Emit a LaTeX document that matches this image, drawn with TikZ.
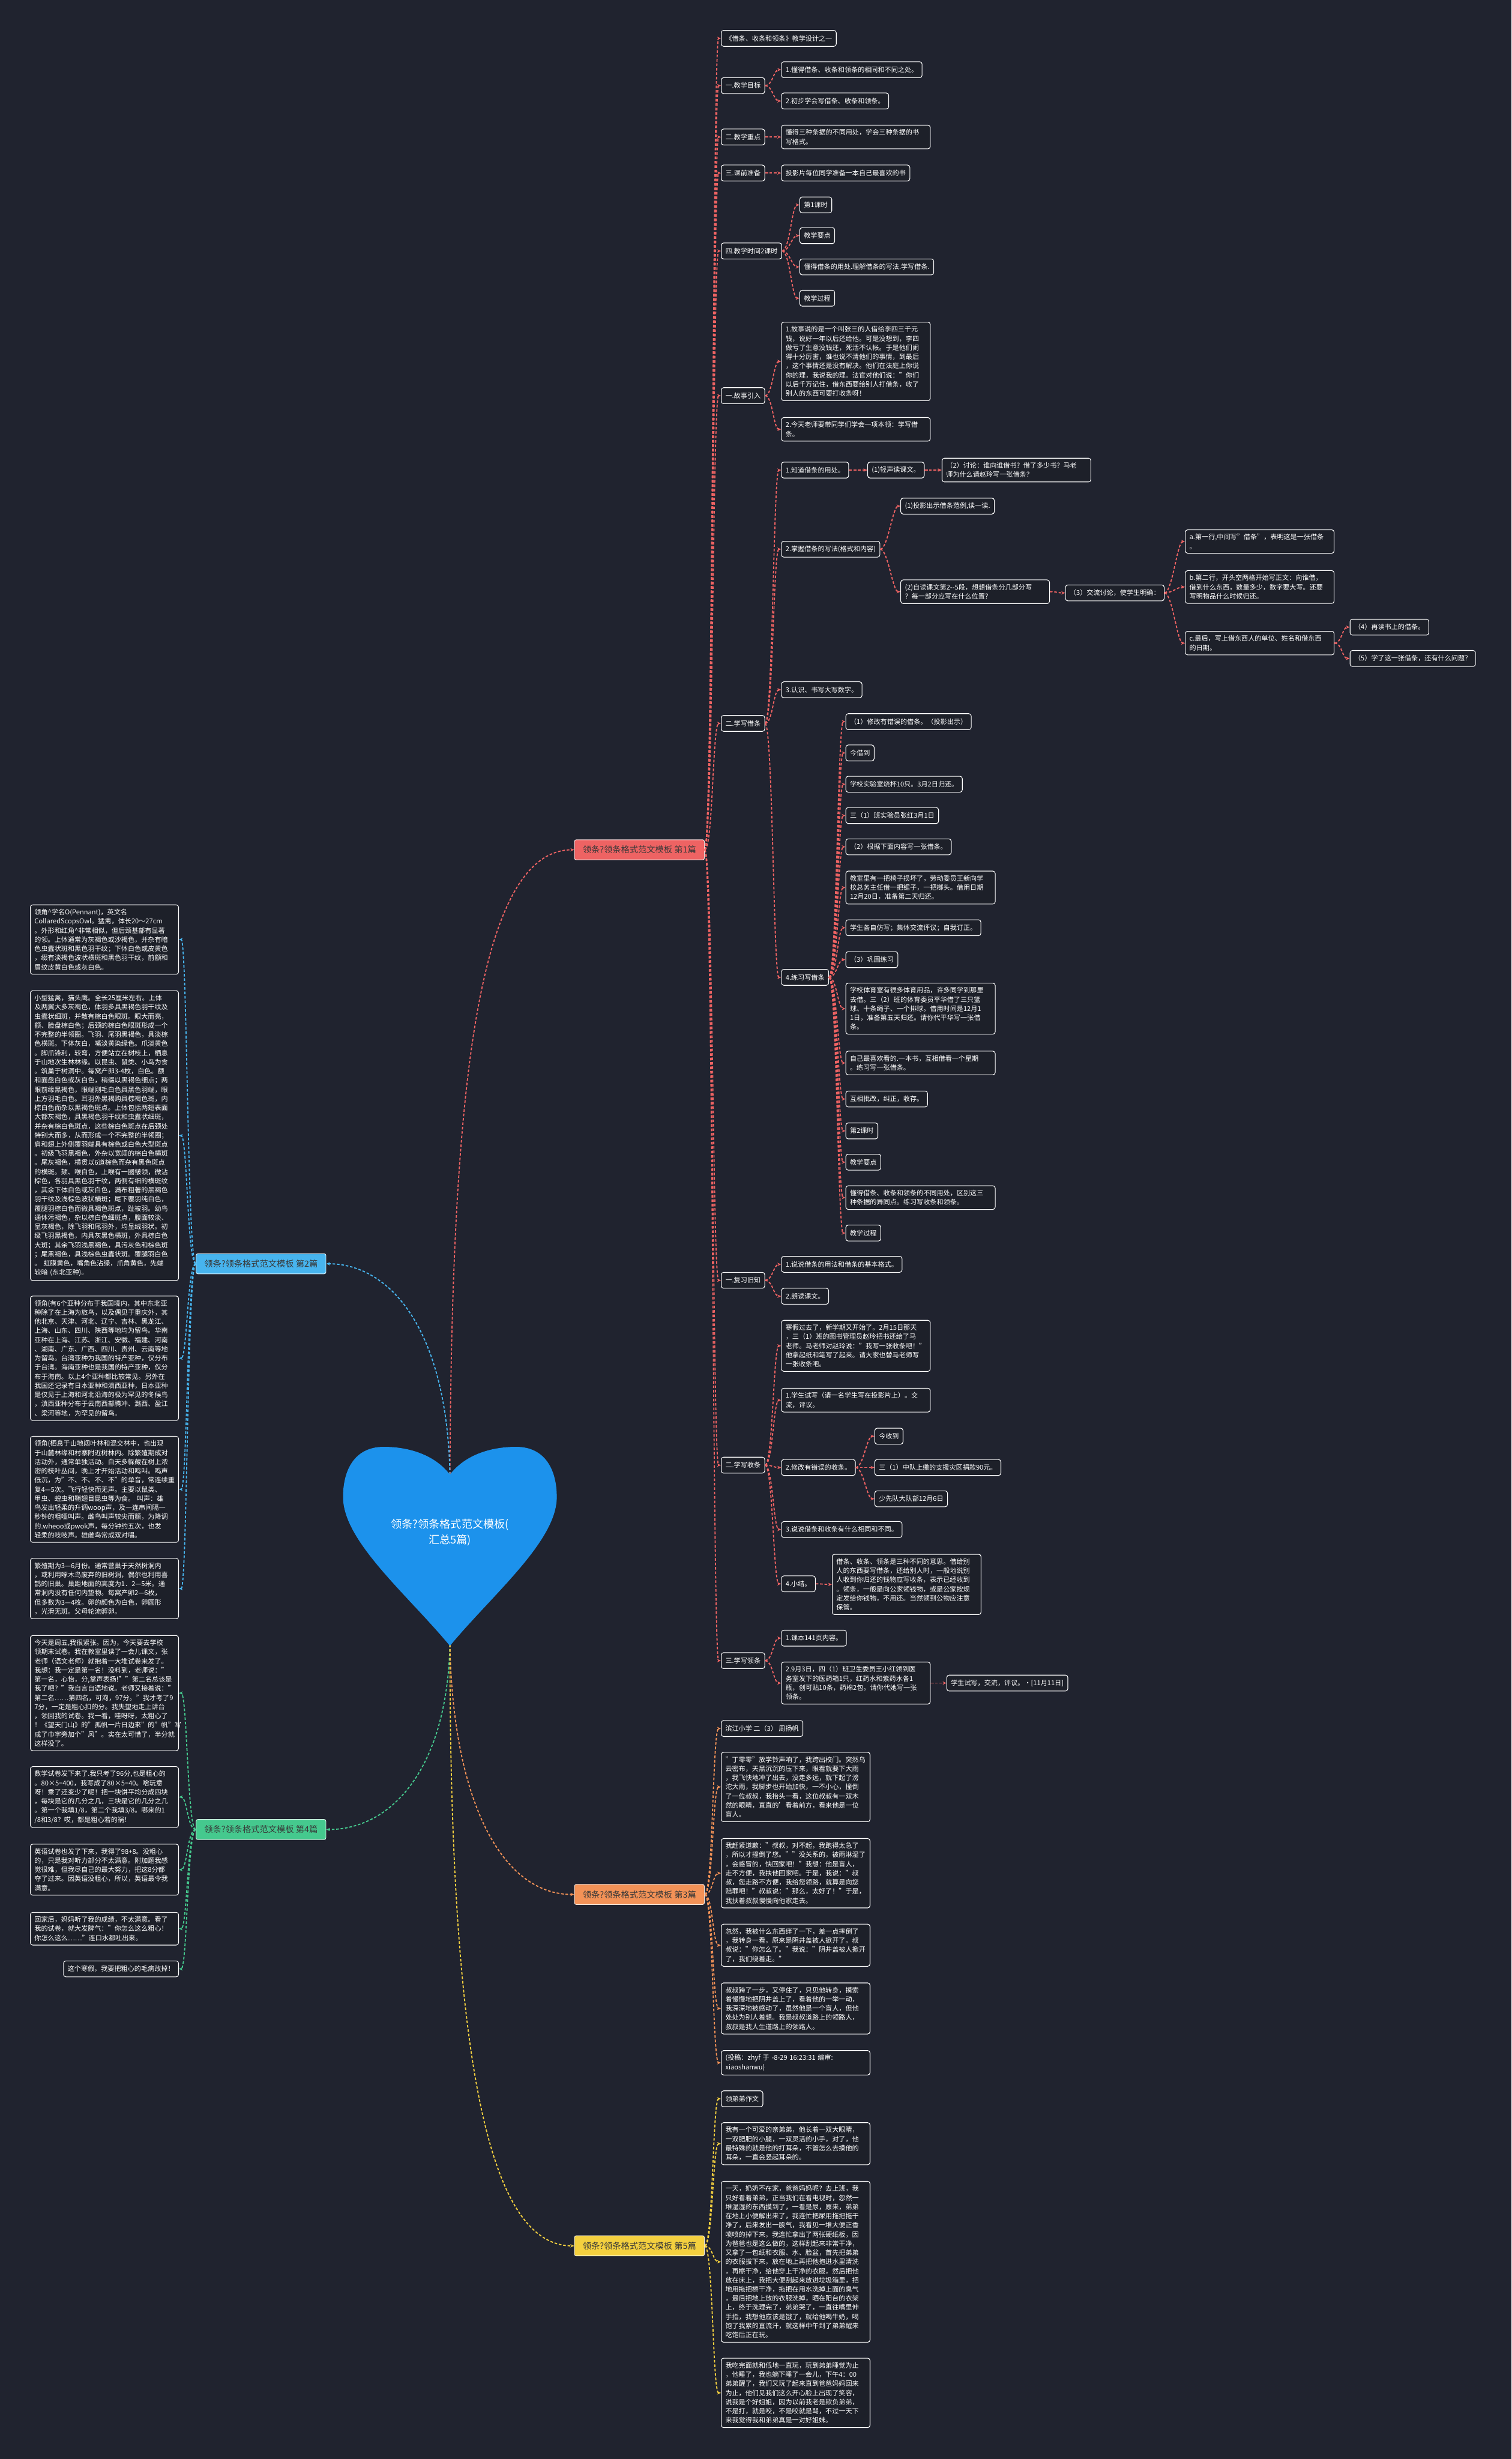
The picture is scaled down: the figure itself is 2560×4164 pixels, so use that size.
\documentclass[tikz,border=0pt]{standalone}
\usepackage{fontspec}
\setmainfont{Noto Sans CJK SC}
\usetikzlibrary{arrows.meta}
\definecolor{bgc}{HTML}{20232F}
\definecolor{boxc}{HTML}{1D2029}
\definecolor{heartc}{HTML}{1C92EC}
\definecolor{redc}{HTML}{EE6363}
\definecolor{bluec}{HTML}{47B4EE}
\definecolor{greenc}{HTML}{45C98E}
\definecolor{orangec}{HTML}{F39257}
\definecolor{yellowc}{HTML}{F4D03F}
\begin{document}
\begin{tikzpicture}[
  x=1pt,y=-1pt,
  topic/.style={fill=#1,draw=white!80!#1,line width=1pt,rounded corners=3pt,text=black!78,
    font=\fontsize{14.5}{18}\selectfont,minimum width=220pt,minimum height=34pt,inner sep=4pt},
  leaf/.style={anchor=west,fill=boxc,draw=white,line width=1.1pt,rounded corners=4pt,text=white,
    font=\fontsize{11.3}{15.5}\selectfont,align=left,inner xsep=7pt,inner ysep=7pt,minimum height=27pt},
  para/.style={leaf,text width=#1},
  para/.default=238pt,
  twig/.style={draw=#1,line width=1.9pt,dash pattern=on 4.5pt off 3pt,-{Stealth[length=6.5pt,width=5.5pt]}}
]
  \useasboundingbox (0,0) rectangle (2560,4164);
  \fill[bgc] (0,0) rectangle (2560,4164);

  % centre
  \coordinate (heart top) at (762,2497);
  \coordinate (heart tip) at (762,2785);
  \node[topic=redc] (m1) at (1083,1439) {领条?领条格式范文模板 第1篇};
  \node[topic=bluec] (m2) at (442,2140) {领条?领条格式范文模板 第2篇};
  \node[topic=orangec] (m3) at (1083,3208) {领条?领条格式范文模板 第3篇};
  \node[topic=greenc] (m4) at (442,3098) {领条?领条格式范文模板 第4篇};
  \node[topic=yellowc] (m5) at (1083,3803) {领条?领条格式范文模板 第5篇};
  \draw[twig=redc] (heart top) .. controls (765,1900) and (800,1439) .. (m1.west);
  \draw[twig=bluec] (heart top) .. controls (757,2250) and (660,2140) .. (m2.east);
  \draw[twig=greenc] (heart tip) .. controls (757,3000) and (660,3098) .. (m4.east);
  \draw[twig=orangec] (heart tip) .. controls (767,3050) and (850,3208) .. (m3.west);
  \draw[twig=yellowc] (heart tip) .. controls (762,3500) and (830,3803) .. (m5.west);
  \fill[heartc] (762,2497) .. controls (735,2462) and (690,2450) .. (650,2450)
    .. controls (600,2450) and (581,2490) .. (581,2535)
    .. controls (581,2610) and (690,2700) .. (762,2787)
    .. controls (834,2700) and (943,2610) .. (943,2535)
    .. controls (943,2490) and (924,2450) .. (874,2450)
    .. controls (834,2450) and (789,2462) .. (762,2497) -- cycle;
  \node[font=\fontsize{18.5}{27}\selectfont,text=white,align=center] (root) at (762,2595)
    {领条?领条格式范文模板(\\汇总5篇)};

  % 第1篇
  \node[leaf] (a0) at (1221,65) {《借条、收条和领条》教学设计之一};
  \node[leaf] (a1) at (1221,145) {一.教学目标};
  \node[leaf] (a1a) at (1323,118) {1.懂得借条、收条和领条的相同和不同之处。};
  \node[leaf] (a1b) at (1323,171) {2.初步学会写借条、收条和领条。};
  \node[leaf] (a2) at (1221,232) {二.教学重点};
  \node[para] (a2a) at (1323,232) {懂得三种条据的不同用处，学会三种条据的书\\写格式。};
  \node[leaf] (a3) at (1221,293) {三.课前准备};
  \node[leaf] (a3a) at (1323,293) {投影片每位同学准备一本自己最喜欢的书};
  \node[leaf] (a4) at (1221,425) {四.教学时间2课时};
  \node[leaf] (a4a) at (1354,347) {第1课时};
  \node[leaf] (a4b) at (1354,399) {教学要点};
  \node[leaf] (a4c) at (1354,452) {懂得借条的用处.理解借条的写法.学写借条.};
  \node[leaf] (a4d) at (1354,505) {教学过程};
  \node[leaf] (a5) at (1221,670) {一.故事引入};
  \node[para] (a5a) at (1323,612) {1.故事说的是一个叫张三的人借给李四三千元\\钱，说好一年以后还给他。可是没想到，李四\\做亏了生意没钱还，死活不认帐。于是他们闹\\得十分厉害，谁也说不清他们的事情，到最后\\，这个事情还是没有解决。他们在法庭上你说\\你的理，我说我的理。法官对他们说："你们\\以后千万记住，借东西要给别人打借条，收了\\别人的东西可要打收条呀！};
  \node[para] (a5b) at (1323,727) {2.今天老师要带同学们学会一项本领：学写借\\条。};
  \node[leaf] (a6) at (1221,1225) {二.学写借条};
  \node[leaf] (b1) at (1323,796) {1.知道借条的用处。};
  \node[leaf] (b1a) at (1469,796) {(1)轻声读课文。};
  \node[para] (b1b) at (1595,796) {（2）讨论：谁向谁借书？借了多少书？马老\\师为什么请赵玲写一张借条？};
  \node[leaf] (b2) at (1323,930) {2.掌握借条的写法(格式和内容)};
  \node[leaf] (b2a) at (1525,857) {(1)投影出示借条范例,读一读.};
  \node[para] (b2b) at (1525,1002) {(2)自读课文第2-{}-5段，想想借条分几部分写\\？每一部分应写在什么位置？};
  \node[leaf] (b2c) at (1804,1004) {（3）交流讨论，使学生明确：};
  \node[para] (c1) at (2007,917) {a.第一行,中间写"借条"，表明这是一张借条\\。};
  \node[para] (c2) at (2007,994) {b.第二行，开头空两格开始写正文：向谁借，\\借到什么东西，数量多少，数字要大写。还要\\写明物品什么时候归还。};
  \node[para] (c3) at (2007,1089) {c.最后，写上借东西人的单位、姓名和借东西\\的日期。};
  \node[leaf] (c3a) at (2286,1062) {（4）再读书上的借条。};
  \node[leaf] (c3b) at (2286,1115) {（5）学了这一张借条，还有什么问题？};
  \node[leaf] (b3) at (1323,1168) {3.认识、书写大写数字。};
  \node[leaf] (b4) at (1323,1655) {4.练习写借条};
  \node[leaf] (d1) at (1432,1222) {（1）修改有错误的借条。（投影出示）};
  \node[leaf] (d2) at (1432,1275) {今借到};
  \node[leaf] (d3) at (1432,1328) {学校实验室烧杯10只。3月2日归还。};
  \node[leaf] (d4) at (1432,1381) {三（1）班实验员张红3月1日};
  \node[leaf] (d5) at (1432,1434) {（2）根据下面内容写一张借条。};
  \node[para=239pt] (d6) at (1432,1503) {教室里有一把椅子损坏了，劳动委员王新向学\\校总务主任借一把锯子，一把榔头。借用日期\\12月20日，准备第二天归还。};
  \node[leaf] (d7) at (1432,1571) {学生各自仿写；集体交流评议；自我订正。};
  \node[leaf] (d8) at (1432,1625) {（3）巩固练习};
  \node[para=239pt] (d9) at (1432,1708) {学校体育室有很多体育用品，许多同学到那里\\去借。三（2）班的体育委员平华借了三只篮\\球、十条绳子、一个排球。借用时间是12月1\\1日，准备第五天归还。请你代平华写一张借\\条。};
  \node[para=239pt] (d10) at (1432,1800) {自己最喜欢看的.一本书，互相借看一个星期\\。练习写一张借条。};
  \node[leaf] (d11) at (1432,1861) {互相批改，纠正，收存。};
  \node[leaf] (d12) at (1432,1915) {第2课时};
  \node[leaf] (d13) at (1432,1968) {教学要点};
  \node[para=239pt] (d14) at (1432,2028) {懂得借条、收条和领条的不同用处，区别这三\\种条据的异同点。练习写收条和领条。};
  \node[leaf] (d15) at (1432,2088) {教学过程};
  \node[leaf] (a7) at (1221,2168) {一.复习旧知};
  \node[leaf] (e1) at (1323,2141) {1.说说借条的用法和借条的基本格式。};
  \node[leaf] (e2) at (1323,2195) {2.朗读课文。};
  \node[leaf] (a8) at (1221,2481) {二.学写收条};
  \node[para] (f1) at (1323,2279) {寒假过去了，新学期又开始了。2月15日那天\\，三（1）班的图书管理员赵玲把书还给了马\\老师。马老师对赵玲说："我写一张收条吧！"\\他拿起纸和笔写了起来。请大家也替马老师写\\一张收条吧。};
  \node[para] (f2) at (1323,2371) {1.学生试写（请一名学生写在投影片上）。交\\流，评议。};
  \node[leaf] (f3) at (1323,2485) {2.修改有错误的收条。};
  \node[leaf] (f3a) at (1481,2432) {今收到};
  \node[leaf] (f3b) at (1481,2485) {三（1）中队上缴的支援灾区捐款90元。};
  \node[leaf] (f3c) at (1481,2538) {少先队大队部12月6日};
  \node[leaf] (f4) at (1323,2590) {3.说说借条和收条有什么相同和不同。};
  \node[leaf] (f5) at (1323,2682) {4.小结。};
  \node[para] (f5a) at (1409,2683) {借条、收条、领条是三种不同的意思。借给别\\人的东西要写借条，还给别人时，一般地说别\\人收到你归还的钱物应写收条，表示已经收到\\。领条，一般是向公家领钱物，或是公家按规\\定发给你钱物，不用还。当然领到公物应注意\\保管。};
  \node[leaf] (a9) at (1221,2812) {三.学写领条};
  \node[leaf] (g1) at (1323,2774) {1.课本141页内容。};
  \node[para] (g2) at (1323,2850) {2.9月3日，四（1）班卫生委员王小红领到医\\务室发下的医药箱1只，红药水和紫药水各1\\瓶，创可贴10条，药棉2包。请你代她写一张\\领条。};
  \node[leaf] (g2a) at (1603,2850) {学生试写，交流，评议。•[11月11日]};
  \foreach \c in {a0,a1,a2,a3,a4,a5,a6,a7,a8,a9}
    \draw[twig=redc] (m1.east) .. controls +(14,0) and +(-14,0) .. (\c.west);
  \foreach \p/\c in {a1/a1a,a1/a1b,a2/a2a,a3/a3a,a4/a4a,a4/a4b,a4/a4c,a4/a4d,a5/a5a,a5/a5b,
      a6/b1,a6/b2,a6/b3,a6/b4,b1/b1a,b1a/b1b,b2/b2a,b2/b2b,b2b/b2c,b2c/c1,b2c/c2,b2c/c3,
      c3/c3a,c3/c3b,b4/d1,b4/d2,b4/d3,b4/d4,b4/d5,b4/d6,b4/d7,b4/d8,b4/d9,b4/d10,b4/d11,
      b4/d12,b4/d13,b4/d14,b4/d15,a7/e1,a7/e2,a8/f1,a8/f2,a8/f3,a8/f4,a8/f5,f3/f3a,f3/f3b,
      f3/f3c,f5/f5a,a9/g1,a9/g2,g2/g2a}
    \draw[twig=redc] (\p.east) .. controls +(13,0) and +(-13,0) .. (\c.west);

  % 第2篇
  \node[para=237pt,anchor=east] (l1) at (303,1591) {领角\textasciicircum{}学名O(Pennant)，英文名\\CollaredScopsOwl。猛禽，体长20～27cm\\。外形和红角\textasciicircum{}非常相似，但后颈基部有显著\\的领。上体通常为灰褐色或沙褐色，并杂有暗\\色虫蠹状斑和黑色羽干纹；下体白色或皮黄色\\，缀有淡褐色波状横斑和黑色羽干纹，前额和\\眉纹皮黄白色或灰白色。};
  \node[para=237pt,anchor=east] (l2) at (303,1923) {小型猛禽，猫头鹰。全长25厘米左右。上体\\及两翼大多灰褐色，体羽多具黑褐色羽干纹及\\虫蠹状细斑，并散有棕白色眼斑。眼大而亮，\\额、脸盘棕白色；后颈的棕白色眼斑形成一个\\不完整的半领圈。飞羽、尾羽黑褐色，具淡棕\\色横斑。下体灰白，嘴淡黄染绿色。爪淡黄色\\。脚爪锋利，较弯，方便站立在树枝上，栖息\\于山地次生林林缘。以昆虫、鼠类、小鸟为食\\。筑巢于树洞中。每窝产卵3-4枚，白色。额\\和面盘白色或灰白色，稍缀以黑褐色细点；两\\眼前缘黑褐色，眼端刚毛白色具黑色羽端，眼\\上方羽毛白色。耳羽外黑褐购具棕褐色斑，内\\棕白色而杂以黑褐色斑点。上体包括两翅表面\\大都灰褐色，具黑褐色羽干纹和虫蠹状细斑，\\并杂有棕白色斑点，这些棕白色斑点在后颈处\\特别大而多，从而形成一个不完整的半领圈；\\肩和翅上外侧覆羽端具有棕色或白色大型斑点\\。初级飞羽黑褐色，外杂以宽阔的棕白色横斑\\。尾灰褐色，横贯以6道棕色而杂有黑色斑点\\的横斑。颏、喉白色，上喉有一圈皱领，微沾\\棕色，各羽具黑色羽干纹，两侧有细的横斑纹\\，其余下体白色或灰白色，满布粗著的黑褐色\\羽干纹及浅棕色波状横斑；尾下覆羽纯白色，\\覆腿羽棕白色而微具褐色斑点，趾被羽。幼鸟\\通体污褐色，杂以棕白色细斑点，腹面较淡、\\呈灰褐色，除飞羽和尾羽外，均呈绒羽状。初\\级飞羽黑褐色，内具灰黑色横斑，外具棕白色\\大斑；其余飞羽浅黑褐色，具污灰色和棕色斑\\；尾黑褐色，具浅棕色虫蠹状斑。覆腿羽白色\\。~虹膜黄色，嘴角色沾绿，爪角黄色，先端\\较暗 (东北亚种)。};
  \node[para=237pt,anchor=east] (l3) at (303,2300) {领角(有6个亚种分布于我国境内，其中东北亚\\种除了在上海为旅鸟，以及偶见于重庆外，其\\他北京、天津、河北、辽宁、吉林、黑龙江、\\上海、山东、四川、陕西等地均为留鸟。华南\\亚种在上海、江苏、浙江、安徽、福建、河南\\、湖南、广东、广西、四川、贵州、云南等地\\为留鸟。台湾亚种为我国的特产亚种，仅分布\\于台湾。海南亚种也是我国的特产亚种，仅分\\布于海南。以上4个亚种都比较常见。另外在\\我国还记录有日本亚种和滇西亚种，日本亚种\\是仅见于上海和河北沿海的极为罕见的冬候鸟\\，滇西亚种分布于云南西部腾冲、潞西、盈江\\、梁河等地，为罕见的留鸟。};
  \node[para=237pt,anchor=east] (l4) at (303,2522) {领角(栖息于山地阔叶林和混交林中，也出现\\于山麓林缘和村寨附近树林内。除繁殖期成对\\活动外，通常单独活动。白天多躲藏在树上浓\\密的枝叶丛间，晚上才开始活动和鸣叫。鸣声\\低沉，为"不、不、不、不"的单音，常连续重\\复4—5次。飞行轻快而无声。主要以鼠类、\\甲虫、蝗虫和鞘翅目昆虫等为食。~叫声：雄\\鸟发出轻柔的升调woop声，及一连串间隔一\\秒钟的粗哑叫声。雌鸟叫声较尖而颤，为降调\\的.wheoo或pwok声，每分钟约五次，也发\\轻柔的吱吱声。雄雌鸟常成双对唱。};
  \node[para=237pt,anchor=east] (l5) at (303,2690) {繁殖期为3—6月份。通常营巢于天然树洞内\\，或利用啄木鸟废弃的旧树洞，偶尔也利用喜\\鹊的旧巢。巢距地面的高度为1．2—5米。通\\常洞内没有任何内垫物。每窝产卵2—6枚，\\但多数为3—4枚。卵的颜色为白色，卵圆形\\，光滑无斑。父母轮流孵卵。};
  \foreach \c in {l1,l2,l3,l4,l5}
    \draw[twig=bluec] (m2.west) .. controls +(-14,0) and +(14,0) .. (\c.east);

  % 第3篇
  \node[leaf] (h1) at (1221,2927) {滨江小学 二（3） 周扬帆};
  \node[para] (h2) at (1221,3026) {"丁零零"放学铃声响了，我跨出校门。突然乌\\云密布，天黑沉沉的压下来，眼看就要下大雨\\，我飞快地冲了出去，没走多远，就下起了滂\\沱大雨，我脚步也开始加快，一不小心，撞倒\\了一位叔叔，我抬头一看，这位叔叔有一双木\\然的眼睛，直直的'看着前方，看来他是一位\\盲人。};
  \node[para] (h3) at (1221,3172) {我赶紧道歉："叔叔，对不起，我跑得太急了\\，所以才撞倒了您。""没关系的，被雨淋湿了\\，会感冒的，快回家吧！"我想：他是盲人，\\走不方便，我扶他回家吧。于是，我说："叔\\叔，您走路不方便，我给您领路，就算是向您\\赔罪吧！"叔叔说："那么，太好了！"于是，\\我扶着叔叔慢慢向他家走去。};
  \node[para] (h4) at (1221,3294) {忽然，我被什么东西绊了一下，差一点摔倒了\\，我转身一看，原来是阴井盖被人掀开了。叔\\叔说："你怎么了。"我说："阴井盖被人掀开\\了，我们绕着走。"};
  \node[para] (h5) at (1221,3401) {叔叔跨了一步，又停住了，只见他转身，摸索\\着慢慢地把阴井盖上了，看着他的一举一动，\\我深深地被感动了，虽然他是一个盲人，但他\\处处为别人着想。我是叔叔道路上的领路人，\\叔叔是我人生道路上的领路人。};
  \node[para] (h6) at (1221,3493) {(投稿：zhyf 于 -8-29 16:23:31 编审:\\xiaoshanwu)};
  \foreach \c in {h1,h2,h3,h4,h5,h6}
    \draw[twig=orangec] (m3.east) .. controls +(14,0) and +(-14,0) .. (\c.west);

  % 第4篇
  \node[para=237pt,anchor=east] (n1) at (303,2867) {今天是周五,我很紧张。因为，今天要去学校\\领期末试卷。我在教室里读了一会儿课文，张\\老师（语文老师）就抱着一大堆试卷来发了。\\我想：我一定是第一名！没料到，老师说："\\第一名，心怡，分,掌声表扬!""第二名总该是\\我了吧？"我自言自语地说。老师又接着说："\\第二名……第四名，可洵，97分。"我才考了9\\7分，一定是粗心扣的分。我失望地走上讲台\\，领回我的试卷。我一看，哇呀呀，太粗心了\\！《望天门山》的"孤帆一片日边来"的"帆"写\\成了巾字旁加个"风"。实在太可惜了，半分就\\这样没了。};
  \node[para=237pt,anchor=east] (n2) at (303,3043) {数学试卷发下来了.我只考了96分,也是粗心的\\。80×5=400，我写成了80×5=40。啥玩意\\呀！乘了还变少了呢！把一块饼平均分成四块\\，每块是它的几分之几，三块是它的几分之几\\。第一个我填1/8，第二个我填3/8。哪来的1\\/8和3/8？哎，都是粗心若的祸！};
  \node[para=237pt,anchor=east] (n3) at (303,3166) {英语试卷也发了下来，我得了98+8。没粗心\\的，只是我对听力部分不太满意。附加题我感\\觉很难，但我尽自己的最大努力，把这8分都\\夺了过来。因英语没粗心，所以，英语最令我\\满意。};
  \node[para=237pt,anchor=east] (n4) at (303,3266) {回家后，妈妈听了我的成绩，不太满意。看了\\我的试卷，就大发脾气："你怎么这么粗心！\\你怎么这么……"连口水都吐出来。};
  \node[leaf,anchor=east] (n5) at (303,3334) {这个寒假，我要把粗心的毛病改掉！};
  \foreach \c in {n1,n2,n3,n4,n5}
    \draw[twig=greenc] (m4.west) .. controls +(-14,0) and +(14,0) .. (\c.east);

  % 第5篇
  \node[leaf] (k1) at (1221,3554) {领弟弟作文};
  \node[para] (k2) at (1221,3630) {我有一个可爱的亲弟弟，他长着一双大眼睛，\\一双肥肥的小腿，一双灵活的小手，对了，他\\最特殊的就是他的打耳朵，不管怎么去摸他的\\耳朵，一直会竖起耳朵的。};
  \node[para] (k3) at (1221,3830) {一天，奶奶不在家，爸爸妈妈呢？去上班，我\\只好看着弟弟，正当我们在看电视时，忽然一\\堆湿湿的东西摸到了，一看是尿，原来，弟弟\\在地上小便解出来了，我连忙把尿用拖把拖干\\净了，后来发出一股气，我看见一堆大便正香\\喷喷的掉下来，我连忙拿出了两张硬纸板，因\\为爸爸也是这么做的，这样刮起来非常干净，\\又拿了一包纸和衣服、水、脸盆，首先把弟弟\\的衣服拔下来，放在地上再把他抱进水里清洗\\，再檫干净，给他穿上干净的衣服，然后把他\\放在床上，我把大便刮起来放进垃圾箱里，把\\地用拖把檫干净，拖把在用水洗掉上面的臭气\\，最后把地上放的衣服洗掉，晒在阳台的衣架\\上，终于洗理完了，弟弟哭了，一直往嘴里伸\\手指，我想他应该是饿了，就给他喝牛奶，喝\\饱了我累的直流汗，就这样中午到了弟弟醒来\\吃饱后正在玩。};
  \node[para] (k4) at (1221,4052) {我吃完面就和低地一直玩，玩到弟弟睡觉为止\\，他睡了，我也躺下睡了一会儿，下午4：00\\弟弟醒了，我们又玩了起来直到爸爸妈妈回来\\为止，他们见我们这么开心脸上出现了笑容，\\说我是个好姐姐，因为以前我老是欺负弟弟，\\不是打，就是咬，不是咬就是骂，不过一天下\\来我觉得我和弟弟真是一对好姐妹。};
  \foreach \c in {k1,k2,k3,k4}
    \draw[twig=yellowc] (m5.east) .. controls +(14,0) and +(-14,0) .. (\c.west);
\end{tikzpicture}
\end{document}
